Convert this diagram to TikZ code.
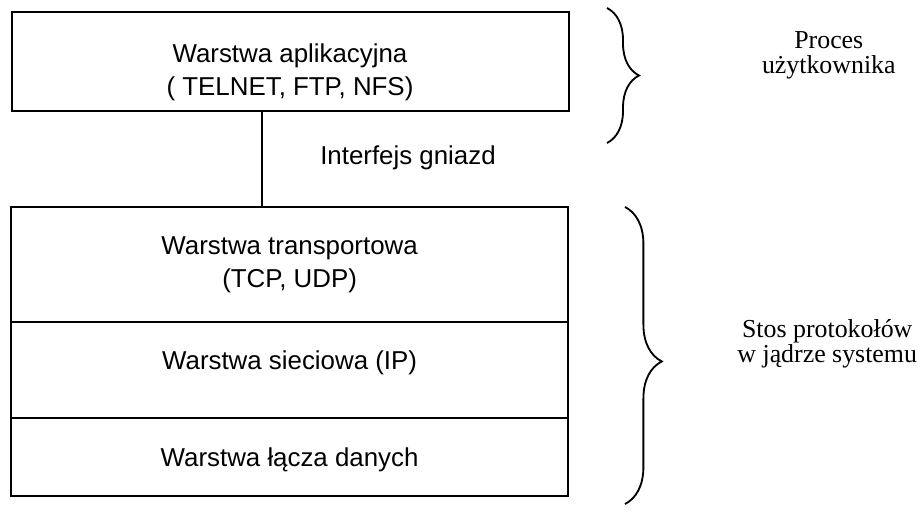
\documentclass[tikz,border=0pt]{standalone}
\usepackage{fontspec}
\setmainfont{Liberation Serif}
\setsansfont{Liberation Sans}
\usetikzlibrary{positioning,decorations.pathreplacing}

\begin{document}
\begin{tikzpicture}[layer/.style={draw, line width=1.4pt, minimum width=13.925cm, outer sep=0pt, inner sep=0pt},
	boxtext/.style={font=\sffamily\fontsize{18.4}{23.4}\selectfont, align=center},
	sidetext/.style={font=\fontsize{18.4}{17.8}\selectfont, align=center},
	layerbrace/.style={decorate, line width=1.3pt}]
	\useasboundingbox (0,0) rectangle (23.075,-12.825);
	% user side
	\node[layer, minimum height=2.475cm] (appbox) at (7.2625,-1.5375) {};
	\node[boxtext] (apptxt) at (7.25,-1.8) {Warstwa aplikacyjna\\( TELNET, FTP, NFS)};
	% kernel side
	\node[layer, minimum height=2.875cm] (tcpbox) at (7.2375,-6.6125) {};
	\node[layer, minimum height=2.4cm, below=0pt of tcpbox] (ipbox) {};
	\node[layer, minimum height=1.95cm, below=0pt of ipbox] (linkbox) {};
	\node[boxtext] (tcptxt) at (7.24,-6.61) {Warstwa transportowa\\(TCP, UDP)};
	\node[boxtext] (iptxt) at (7.24,-9.06) {Warstwa sieciowa (IP)};
	\node[boxtext] (linktxt) at (7.24,-11.5) {Warstwa łącza danych};
	% socket interface
	\coordinate (sockx) at (6.55,0);
	\draw[line width=1.1pt] (appbox.south -| sockx) -- (tcpbox.north -| sockx);
	\node[boxtext] (socktxt) at (10.2,-3.95) {Interfejs gniazd};
	% braces
	\coordinate (userA) at (15.175,-0.2);
	\coordinate (userB) at (15.175,-3.575);
	\draw[layerbrace, decoration={brace, amplitude=0.8cm}] (userA) -- (userB);
	\node[sidetext] (usertxt) at (20.72,-1.38) {Proces\\użytkownika};
	\coordinate (kernA) at (15.625,-5.175);
	\coordinate (kernB) at (15.625,-12.6);
	\draw[layerbrace, decoration={brace, amplitude=0.92cm, aspect=0.52}] (kernA) -- (kernB);
	\node[sidetext] (kerntxt) at (20.68,-8.6) {Stos protokołów\\w jądrze systemu};
\end{tikzpicture}
\end{document}
